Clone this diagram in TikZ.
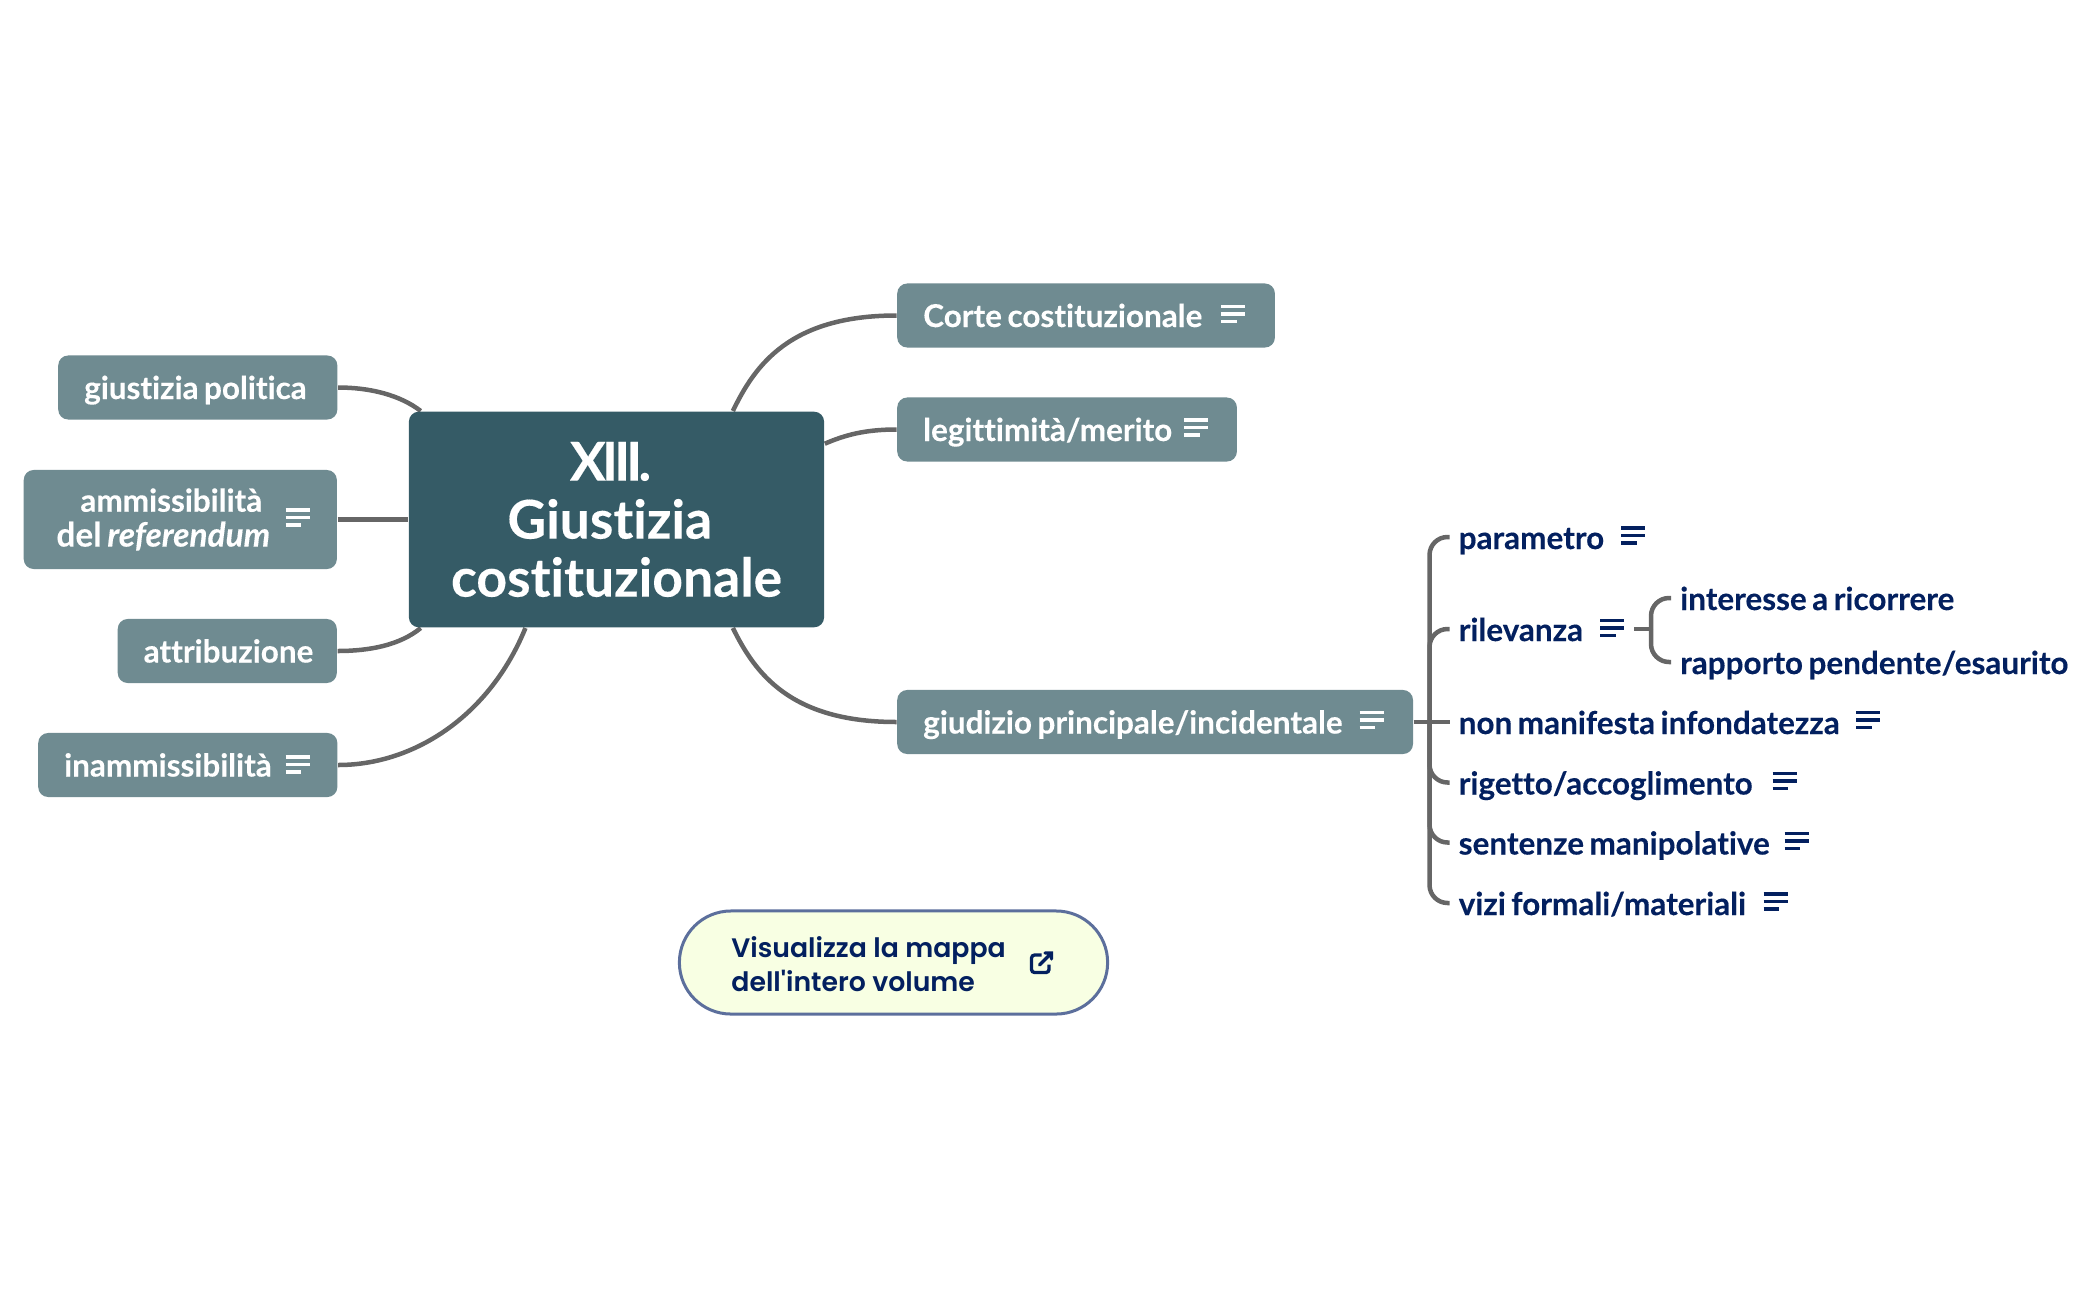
\documentclass[tikz,border=0pt]{standalone}
\usepackage{fontspec}
\setmainfont{Lato}[Ligatures=NoCommon,WordSpace=0.72,BoldFeatures={FakeBold=0.25},BoldItalicFeatures={FakeBold=0.25}]
\newfontfamily\btnfont{Poppins SemiBold}
\usetikzlibrary{backgrounds}
\definecolor{rootcol}{HTML}{355B66}
\definecolor{boxcol}{HTML}{6F8B91}
\definecolor{linkcol}{HTML}{666666}
\definecolor{navy}{HTML}{03205F}
\definecolor{btnfill}{HTML}{F8FFE3}
\definecolor{btnline}{HTML}{5C6F9C}
\newcommand{\boxlabel}[2]{\makebox[#1][l]{#2}}
\tikzset{
  branch/.style={anchor=west, fill=boxcol, rounded corners=0.1cm, text=white, font=\fontsize{8.95}{8.95}\selectfont\bfseries,
    minimum height=0.64cm, inner xsep=0.26cm, inner ysep=0pt, text height=0.29cm, text depth=0.06cm},
  leaf/.style={anchor=west, text=navy, font=\fontsize{8.95}{8.95}\selectfont\bfseries, inner xsep=0.085cm, inner ysep=0pt,
    text height=0.3cm, text depth=0.06cm},
  link/.style={draw=linkcol, line width=0.045cm},
  noteicon/.pic={
    \draw[line width=0.033cm] (0,-7.5) -- (24,-7.5);
    \draw[line width=0.033cm] (0,0) -- (24,0);
    \draw[line width=0.033cm] (0,7.5) -- (15.5,7.5);
  }
}
\begin{document}
\begin{tikzpicture}[x=0.01cm,y=-0.01cm]
\useasboundingbox (0,0) rectangle (2098,1300);
% root and first level
\node (root) at (616.5,519.5) [fill=rootcol, rounded corners=0.1cm, text=white, minimum width=4.15cm, minimum height=2.155cm,
  align=center, font=\fontsize{15.2}{16.5}\selectfont\bfseries] {{\addfontfeature{LetterSpace=-7}XIII.}\kern0.12cm\\Giustizia\kern0.134cm\\costituzionale};
\node (politica) at (57.5,387.5) [branch] {\boxlabel{2.27cm}{giustizia politica}};
\node (ammiss) at (23,519.5) [branch, minimum width=3.13cm, minimum height=0.99cm, align=center, text height=, text depth=,
  font=\fontsize{8.95}{9.9}\selectfont\bfseries] {ammissibilità\kern0.18cm\\{\fontsize{9.5}{9.9}\selectfont del \textit{referendum}}\kern0.34cm};
\node (attrib) at (117,651) [branch] {\boxlabel{1.67cm}{attribuzione}};
\node (inammiss) at (37.5,765) [branch] {\boxlabel{2.47cm}{inammissibilità}};
\node (corte) at (896.5,315.5) [branch] {\boxlabel{3.255cm}{Corte costituzionale}};
\node (legit) at (896.5,429.5) [branch] {\boxlabel{2.875cm}{legittimità/merito}};
\node (giudizio) at (896.5,722) [branch] {\boxlabel{4.635cm}{giudizio principale/incidentale}};
% leaves
\node (parametro) at (1449.5,537) [leaf] {parametro};
\node (rilevanza) at (1449.5,629) [leaf] {rilevanza};
\node (nonman) at (1449.5,722) [leaf] {non manifesta infondatezza};
\node (rigetto) at (1449.5,782.5) [leaf] {rigetto/accoglimento};
\node (sentenze) at (1449.5,842.5) [leaf] {sentenze manipolative};
\node (vizi) at (1449.5,903) [leaf] {vizi formali/materiali};
\node (interesse) at (1671,598) [leaf] {interesse a ricorrere};
\node (rapporto) at (1671,662) [leaf] {rapporto pendente/esaurito};
% button
\node (button) at (893.5,962.5) [draw=btnline, line width=0.03cm, fill=btnfill, rounded corners=0.515cm, minimum width=4.28cm, minimum height=1.03cm] {};
\node (btntext) at (730.7,964) [anchor=west, inner sep=0pt, align=left, text=navy, font=\btnfont\fontsize{7.6}{9.75}\selectfont] {Visualizza la mappa\\dell'intero volume};
\draw[navy, line width=0.033cm, rounded corners=0.03cm] (1041.5,955) -- (1031.5,955) -- (1031.5,972.5) -- (1049,972.5) -- (1049,964.5);
\draw[navy, line width=0.033cm, line cap=round] (1039.5,965) -- (1051.5,953) (1045,953) -- (1051.5,953) -- (1051.5,959);
% note icons
\foreach \px/\py in {285.5/517.5, 285.5/764.5, 1221/314, 1184/427.5, 1359.5/720}
  \pic[white] at (\px,\py) {noteicon};
\foreach \px/\py in {1621/535.5, 1600/628, 1856/720, 1772.5/781, 1784.5/841, 1763.5/901.5}
  \pic[navy] at (\px,\py) {noteicon};
% connectors
\coordinate (trunk) at (1429.5,722);
\coordinate (rilstub) at (1634,629);
\coordinate (subtrunk) at (1651,629);
\begin{scope}[on background layer]
\draw[link] (corte.west) .. controls (790,315.5) and (755,365) .. (root.43);
\draw[link] (legit.west) .. controls (865,429.5) and (845,435) .. (root.20);
\draw[link] (giudizio.west) .. controls (790,722) and (755,673) .. (root.-43);
\draw[link] (politica.east) .. controls (370,387.5) and (400,395) .. (root.151);
\draw[link] (ammiss.east) -- (root.west);
\draw[link] (attrib.east) .. controls (370,651) and (400,645) .. (root.209);
\draw[link] (inammiss.east) .. controls (415,765) and (490,715) .. (root.230);
\draw[link] (giudizio.east) -- (nonman.west);
\draw[link, rounded corners=0.18cm] (parametro.west) -| (trunk);
\draw[link, rounded corners=0.18cm] (rilevanza.west) -| (trunk);
\draw[link, rounded corners=0.18cm] (rigetto.west) -| (trunk);
\draw[link, rounded corners=0.18cm] (sentenze.west) -| (trunk);
\draw[link, rounded corners=0.18cm] (vizi.west) -| (trunk);
\draw[link] (rilstub) -- (subtrunk);
\draw[link, rounded corners=0.18cm] (interesse.west) -| (subtrunk);
\draw[link, rounded corners=0.18cm] (rapporto.west) -| (subtrunk);
\end{scope}
\end{tikzpicture}
\end{document}
